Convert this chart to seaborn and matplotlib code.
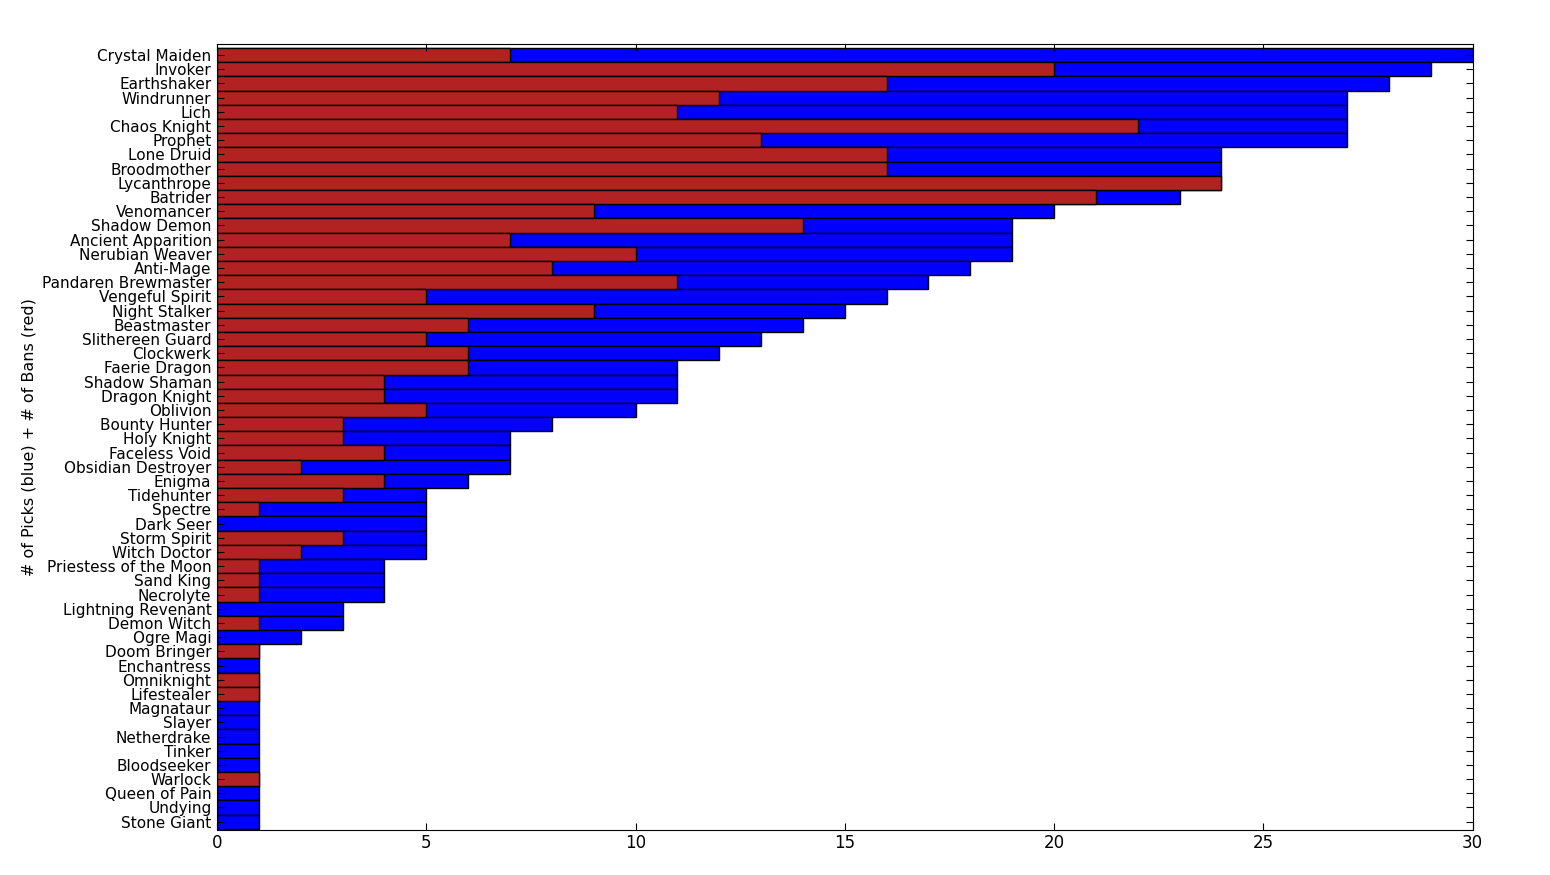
import pandas as pd
import matplotlib
matplotlib.use('Agg')
import matplotlib.pyplot as plt
import seaborn as sns

heroes = ['Crystal Maiden', 'Invoker', 'Earthshaker', 'Windrunner', 'Lich', 'Chaos Knight',
          'Prophet', 'Lone Druid', 'Broodmother', 'Lycanthrope', 'Batrider', 'Venomancer',
          'Shadow Demon', 'Ancient Apparition', 'Nerubian Weaver', 'Anti-Mage',
          'Pandaren Brewmaster', 'Vengeful Spirit', 'Night Stalker', 'Beastmaster',
          'Slithereen Guard', 'Clockwerk', 'Faerie Dragon', 'Shadow Shaman', 'Dragon Knight',
          'Oblivion', 'Bounty Hunter', 'Holy Knight', 'Faceless Void', 'Obsidian Destroyer',
          'Enigma', 'Tidehunter', 'Spectre', 'Dark Seer', 'Storm Spirit', 'Witch Doctor',
          'Priestess of the Moon', 'Sand King', 'Necrolyte', 'Lightning Revenant',
          'Demon Witch', 'Ogre Magi', 'Doom Bringer', 'Enchantress', 'Omniknight',
          'Lifestealer', 'Magnataur', 'Slayer', 'Netherdrake', 'Tinker', 'Bloodseeker',
          'Warlock', 'Queen of Pain', 'Undying', 'Stone Giant']
bans = [7, 20, 16, 12, 11, 22, 13, 16, 16, 24, 21, 9, 14, 7, 10, 8, 11, 5, 9, 6,
        5, 6, 6, 4, 4, 5, 3, 3, 4, 2, 4, 3, 1, 0, 3, 2, 1, 1, 1, 0,
        1, 0, 1, 0, 1, 1, 0, 0, 0, 0, 0, 1, 0, 0, 0]
picks = [23, 9, 12, 15, 16, 5, 14, 8, 8, 0, 2, 11, 5, 12, 9, 10, 6, 11, 6, 8,
         8, 6, 5, 7, 7, 5, 5, 4, 3, 5, 2, 2, 4, 5, 2, 3, 3, 3, 3, 3,
         2, 2, 0, 1, 0, 0, 1, 1, 1, 1, 1, 0, 1, 1, 1]

df = pd.DataFrame({'hero': heroes, 'bans': bans, 'picks': picks})
df['total'] = df['bans'] + df['picks']

fig, ax = plt.subplots(figsize=(15.5, 8.75), dpi=100)
fig.subplots_adjust(left=0.14, right=0.95, top=0.95, bottom=0.052)

sns.barplot(data=df, y='hero', x='total', orient='h', color='#0000ff', saturation=1,
            width=1, edgecolor='black', linewidth=1, ax=ax)
sns.barplot(data=df, y='hero', x='bans', orient='h', color='#b22222', saturation=1,
            width=1, edgecolor='black', linewidth=1, ax=ax)

ax.set_xlim(0, 30)
ax.set_ylim(len(heroes) - 0.45, -0.8)
ax.set_xticks(range(0, 31, 5))
ax.set_ylabel('# of Picks (blue) + # of Bans (red)', fontsize=11.5)
ax.set_xlabel('')
ax.tick_params(axis='both', direction='in', top=True, right=True, length=5)
ax.tick_params(axis='x', labelsize=12)
ax.tick_params(axis='y', labelsize=11, pad=4)
for s in ax.spines.values():
    s.set_visible(True)
    s.set_color('black')

plt.savefig('out.png')
plt.close()
